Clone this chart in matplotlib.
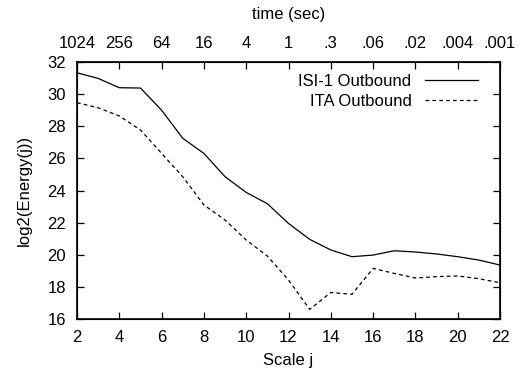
import matplotlib
matplotlib.use("Agg")
from matplotlib import pyplot as plt

plt.rcParams["font.family"] = ["Liberation Sans", "DejaVu Sans"]
plt.rcParams["font.size"] = 12

scale = [2, 3, 4, 5, 6, 7, 8, 9, 10, 11, 12, 13, 14, 15, 16, 17, 18, 19, 20, 21, 22]
isi1 = [31.33, 30.98, 30.4, 30.38, 29.0, 27.25, 26.31, 24.86, 23.88, 23.18, 21.95,
        20.96, 20.3, 19.88, 19.98, 20.25, 20.17, 20.05, 19.88, 19.67, 19.36]
ita = [29.47, 29.15, 28.64, 27.77, 26.31, 24.86, 23.1, 22.16, 20.92, 19.92, 18.43,
       16.6, 17.65, 17.54, 19.15, 18.84, 18.55, 18.64, 18.68, 18.51, 18.26]

xticks = [2, 4, 6, 8, 10, 12, 14, 16, 18, 20, 22]
time_labels = ["1024", "256", "64", "16", "4", "1", ".3", ".06", ".02", ".004", ".001"]
yticks = [16, 18, 20, 22, 24, 26, 28, 30, 32]

fig = plt.figure(figsize=(5.21, 3.8), dpi=100)
ax = fig.add_axes([0.1478, 0.1605, 0.8119, 0.6763])

ax.plot(scale, isi1, color="black", lw=0.9, label="ISI-1 Outbound")
ax.plot(scale, ita, color="black", lw=0.9, ls=(0, (3, 2.5)), label="ITA Outbound")

ax.set_xlim(2, 22)
ax.set_ylim(16, 32)
ax.set_xticks(xticks)
ax.set_yticks(yticks)
ax.tick_params(direction="in", length=5, width=0.9, right=True)
ax.tick_params(axis="x", pad=8)
ax.tick_params(axis="y", pad=8)
ax.set_xlabel("Scale j", labelpad=6)
ax.set_ylabel("log2(Energy(j))", labelpad=11)
for s in ax.spines.values():
    s.set_linewidth(1.2)

top = ax.twiny()
top.set_xlim(ax.get_xlim())
top.set_xticks(xticks)
top.set_xticklabels(time_labels)
top.tick_params(direction="in", length=5, width=0.9, pad=8)
top.set_xlabel("time (sec)", labelpad=12)

ax.legend(loc="upper right", frameon=False, markerfirst=False, handlelength=3.2,
          handletextpad=0.8, labelspacing=0.3, borderaxespad=0,
          bbox_to_anchor=(0.964, 0.98))

fig.savefig("out.png", dpi=100)
